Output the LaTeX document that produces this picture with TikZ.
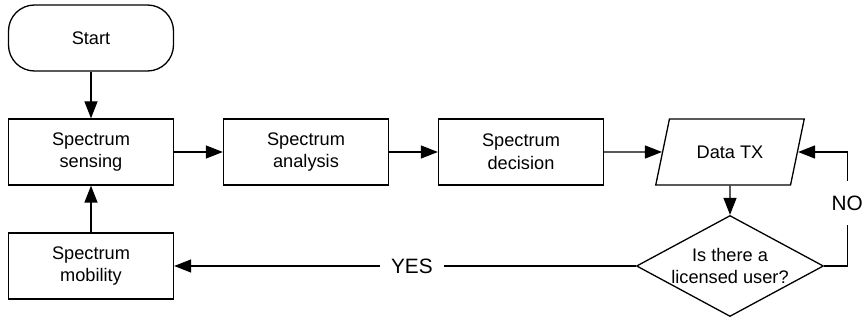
\documentclass[tikz,border=0pt]{standalone}
\usepackage{fontspec}
\setmainfont{Liberation Sans}
\usetikzlibrary{shapes}
\usetikzlibrary{arrows.meta}

\begin{document}
\begin{tikzpicture}[
    font=\fontsize{9.1pt}{11.3pt}\selectfont,
    stage/.style={rectangle, minimum width=82.5pt, minimum height=33pt, align=center},
    answer/.style={fill=white, font=\fontsize{10.4pt}{12pt}\selectfont},
    flow/.style={line width=0.65pt, -{Triangle[length=8.5pt,width=6.5pt]}}]
    \useasboundingbox (0,0) rectangle (433.5pt,-160pt);
    \matrix[matrix anchor=start.center, nodes={draw, line width=0.65pt},
        row sep={57pt,between origins},column sep={107.5pt,between origins}]
        at (45.5pt,-19pt) {
    \node[stage, rounded corners=13pt] (start) {Start}; & & & \\
    \node[stage] (sensing) {Spectrum\\sensing}; &
    \node[stage] (analysis) {Spectrum\\analysis}; &
    \node[stage] (decision) {Spectrum\\decision}; &
    \node[trapezium, trapezium left angle=70.8, trapezium right angle=109.2, xshift=-3pt,
        trapezium stretches=true, minimum width=74.5pt, minimum height=33pt] (datatx) {Data TX};\\
    \node[stage] (mobility) {Spectrum\\mobility}; & & &
    \node[diamond, aspect=1.85, inner sep=0pt, align=center, xshift=-3pt,
        minimum width=93.5pt, minimum height=50.5pt] (query) {Is there a\\licensed user?};\\
    };
    \draw[flow] (start) -- (sensing);
    \draw[flow] (sensing) -- (analysis);
    \draw[flow] (analysis) -- (decision);
    \draw[flow] (decision) -- (datatx);
    \draw[flow] (datatx) -- (query);
    \draw[flow] (query) -- node[answer, pos=0.485, inner xsep=5.5pt] (yes) {YES} (mobility);
    \draw[flow] (mobility) -- (sensing);
    \draw[flow] (query.east) -- ++(11.5pt,0) |- node[answer, pos=0.276, inner ysep=7.5pt] (no) {NO} (datatx);
\end{tikzpicture}
\end{document}
